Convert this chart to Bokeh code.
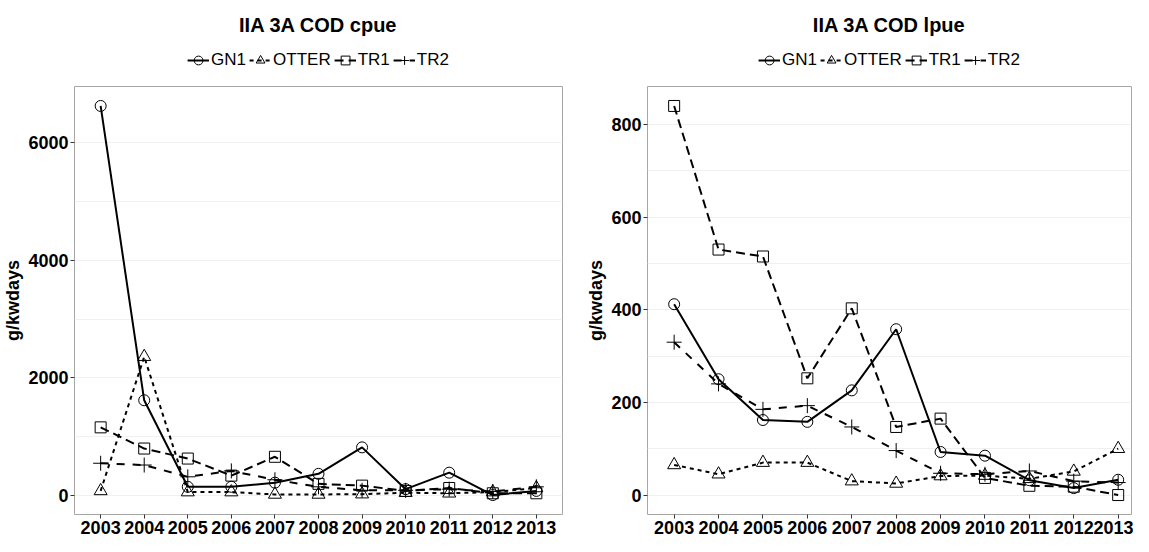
from bokeh.plotting import figure
from bokeh.layouts import row, column, Spacer
from bokeh.models import Legend, LegendItem, Range1d, FixedTicker, SingleIntervalTicker, ColumnDataSource
from bokeh.embed import file_html
from bokeh.resources import INLINE

# ---------------- data ----------------
years = [2003, 2004, 2005, 2006, 2007, 2008, 2009, 2010, 2011, 2012, 2013]
series_names = ["GN1", "OTTER", "TR1", "TR2"]

cpue_title = "IIA 3A COD cpue"
cpue_GN1 = [6620, 1620, 150, 150, 220, 370, 820, 110, 390, 10, 80]
cpue_OTTER = [80, 2360, 60, 60, 20, 20, 25, 50, 40, 60, 130]
cpue_TR1 = [1160, 800, 630, 340, 660, 200, 170, 80, 130, 40, 40]
cpue_TR2 = [550, 520, 320, 420, 270, 150, 90, 90, 110, 70, 150]

lpue_title = "IIA 3A COD lpue"
lpue_GN1 = [412, 250, 162, 158, 226, 358, 93, 85, 32, 15, 33]
lpue_OTTER = [65, 45, 70, 70, 30, 25, 41, 42, 35, 51, 100]
lpue_TR1 = [840, 530, 515, 252, 403, 147, 165, 37, 20, 18, 0]
lpue_TR2 = [330, 240, 185, 193, 147, 96, 47, 45, 52, 30, 27]

y_label = "g/kwdays"
cpue_tick_step = 2000
lpue_tick_step = 200

# ---------------- styles ----------------
FONT = "Liberation Sans"
line_styles = {
    "GN1": dict(line_dash="solid", marker="circle", size=11),
    "OTTER": dict(line_dash="4 4", marker="triangle", size=13),
    "TR1": dict(line_dash="9 5", marker="square", size=11),
    "TR2": dict(line_dash="8 8", marker="cross", size=15),
}

FRAME_H = 428
HEADER_FRAME_H = 48
TOP_GAP = 10


def draw_series(p, x, y, name):
    st = line_styles[name]
    src = ColumnDataSource(dict(x=x, y=y))
    r1 = p.line("x", "y", source=src, line_color="black", line_width=2,
                line_dash=st["line_dash"])
    r2 = p.scatter("x", "y", source=src, marker=st["marker"], size=st["size"],
                   line_color="black", fill_color=None, line_width=1)
    return r1, r2


def make_header(title, data, frame_w, b_left, b_right):
    # header strip holding the title and the legend; its data sits outside its
    # (empty) view, only the legend samples are seen
    h = figure(frame_width=frame_w, frame_height=HEADER_FRAME_H,
               output_backend="svg", toolbar_location=None, title=title,
               x_range=Range1d(0, 1), y_range=Range1d(0, 1),
               x_axis_type=None, y_axis_type=None,
               min_border_left=b_left, min_border_right=b_right,
               min_border_top=0, min_border_bottom=0)
    h.title.text_font = FONT
    h.title.text_font_size = "20px"
    h.title.text_font_style = "bold"
    h.title.align = "center"
    h.title.text_color = "black"
    h.title.standoff = 2
    h.outline_line_color = None
    h.grid.grid_line_color = None
    h.background_fill_color = "white"
    h.border_fill_color = "white"

    items = []
    for name in series_names:
        r1, r2 = draw_series(h, years, data[name], name)
        items.append(LegendItem(label=name, renderers=[r1, r2]))
    leg = Legend(items=items, orientation="horizontal", location="center")
    leg.label_text_font = FONT
    leg.label_text_font_size = "17px"
    leg.label_text_color = "black"
    leg.glyph_width = 22
    leg.glyph_height = 22
    leg.label_height = 18
    leg.label_standoff = 2
    leg.spacing = 3
    leg.padding = 2
    leg.margin = 0
    leg.border_line_color = None
    leg.background_fill_color = None
    h.add_layout(leg, "center")
    return h


def make_panel(data, frame_w, b_left, b_right, step, x_pad_right):
    allv = [v for s in data.values() for v in s]
    lo, hi = min(allv), max(allv)
    pad = 0.05 * (hi - lo)
    p = figure(frame_width=frame_w, frame_height=FRAME_H,
               output_backend="svg", toolbar_location=None,
               x_range=Range1d(years[0] - 0.6, years[-1] + x_pad_right),
               y_range=Range1d(lo - pad, hi + pad),
               min_border_left=b_left, min_border_right=b_right,
               min_border_top=2, min_border_bottom=20)

    p.background_fill_color = "white"
    p.border_fill_color = "white"
    p.outline_line_color = "#a6a6a6"
    p.outline_line_width = 1

    p.xgrid.grid_line_color = None
    p.ygrid.grid_line_color = None
    p.ygrid.minor_grid_line_color = "#f0f0f0"

    p.xaxis.ticker = FixedTicker(ticks=years)
    p.yaxis.ticker = SingleIntervalTicker(interval=step, num_minor_ticks=2)
    for ax in (p.xaxis[0], p.yaxis[0]):
        ax.axis_line_color = None
        ax.major_tick_line_color = "#333333"
        ax.major_tick_out = 4
        ax.major_tick_in = 0
        ax.minor_tick_line_color = None
        ax.major_label_text_font = FONT
        ax.major_label_text_font_size = "18px"
        ax.major_label_text_font_style = "bold"
        ax.major_label_text_color = "black"
        ax.major_label_standoff = 2
    p.yaxis.axis_label = y_label
    p.yaxis.axis_label_text_font = FONT
    p.yaxis.axis_label_text_font_size = "18px"
    p.yaxis.axis_label_text_font_style = "bold"
    p.yaxis.axis_label_text_color = "black"
    p.yaxis.axis_label_standoff = 2

    for name in series_names:
        draw_series(p, years, data[name], name)
    return p


left_args = dict(frame_w=488, b_left=71, b_right=20)
right_args = dict(frame_w=484, b_left=65, b_right=2)

cpue = {"GN1": cpue_GN1, "OTTER": cpue_OTTER, "TR1": cpue_TR1, "TR2": cpue_TR2}
lpue = {"GN1": lpue_GN1, "OTTER": lpue_OTTER, "TR1": lpue_TR1, "TR2": lpue_TR2}

left = column(
    Spacer(height=TOP_GAP, width=10),
    make_header(cpue_title, cpue, **left_args),
    make_panel(cpue, step=cpue_tick_step, x_pad_right=0.6, **left_args),
)
right = column(
    Spacer(height=TOP_GAP, width=10),
    make_header(lpue_title, lpue, **right_args),
    make_panel(lpue, step=lpue_tick_step, x_pad_right=0.3, **right_args),
)

layout = row(left, right)
open("out.html", "w").write(file_html(layout, INLINE))
